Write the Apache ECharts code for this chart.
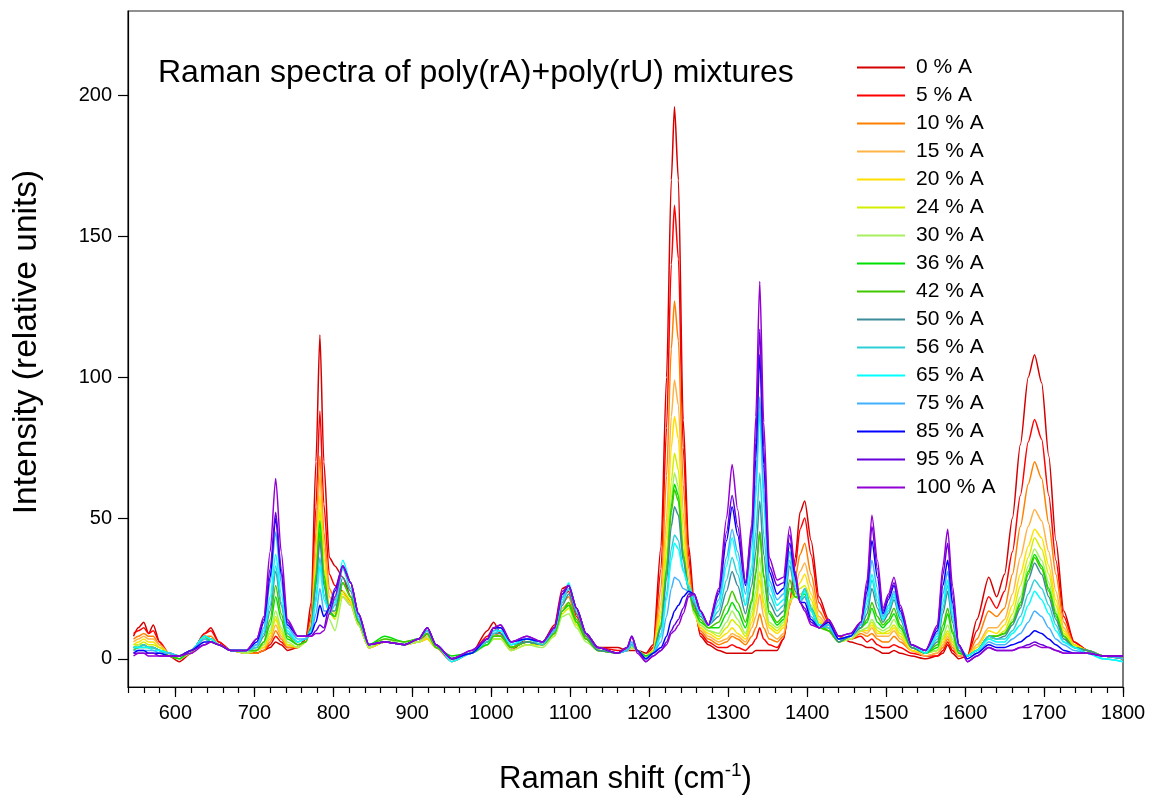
<!DOCTYPE html>
<html>
<head>
<meta charset="utf-8">
<script src="https://cdn.jsdelivr.net/npm/echarts@6/dist/echarts.min.js"></script>
<style>html,body{margin:0;padding:0;background:#fff}#chart{width:1152px;height:800px}</style>
</head>
<body>
<div id="chart"></div>
<script>
// Raman shift positions (cm-1) at which the spectra were read
const ramanShift = [547,553,560,566,572,580,592,605,620,637,
645,655,670,690,703,712,720,727,734,742,
755,765,772,778,783,788,795,802,812,822,
832,845,865,890,908,919,930,950,975,995,
1003,1012,1025,1045,1065,1080,1090,1098,1108,1120,
1135,1160,1172,1178,1185,1196,1205,1215,1222,1228,
1232,1237,1243,1250,1257,1265,1275,1288,1298,1305,
1312,1322,1330,1335,1340,1345,1352,1362,1370,1378,
1385,1391,1397,1405,1415,1427,1440,1455,1468,1476,
1482,1489,1496,1503,1510,1518,1532,1550,1565,1572,
1578,1584,1592,1603,1615,1630,1640,1650,1660,1670,
1680,1688,1697,1706,1715,1725,1738,1755,1775,1800];

const seriesNames = ['0 % A','5 % A','10 % A','15 % A','20 % A','24 % A','30 % A','36 % A','42 % A','50 % A','56 % A','65 % A','75 % A','85 % A','95 % A','100 % A'];
const seriesColors = ['#d40000','#ff0000','#ff8000','#ffb347','#ffe000','#d4ee00','#a8f060','#00e000','#40c800','#3d8c99','#2ed0d8','#00ffff','#40b0ff','#0000ff','#6600dd','#9400d3'];

const a0 = [8,11,13,9,12,6,1,-1,2,9, 11,6,3,2,2,3,4,6,5,3, 4,7,20,70,115,70,36,33,29,22, 12,4,6,5,6,9,4,0,2,10, 13,9,3,7,6,12,25,26,16,9, 4,4,3,3,3,2,5,40,100,170, 196,170,85,40,20,8,5,3,2,2, 2,2,2,3,3,3,3,3,7,20, 36,52,56,42,22,14,8,6,5,4, 4,3,2,2,3,2,1,0,1,2, 5,2,0,1,14,29,22,30,50,76, 100,108,98,72,42,17,6,3,1,0];
const a5 = [9,10,11,9,10,6,2,0,2,9, 10,6,3,2,2,3,5,8,6,4, 4,7,16,54,88,55,30,26,24,20, 12,4,6,5,6,8,4,-1,2,8, 11,9,4,6,5,10,22,24,15,8, 4,3,3,4,3,1,4,32,82,140, 161,142,75,36,18,9,6,4,4,5, 4,3,5,7,11,7,5,4,7,19, 33,46,50,37,20,13,8,7,8,6, 7,5,4,4,5,4,2,1,1,3, 6,3,1,1,10,22,18,24,38,58, 77,85,78,58,35,15,6,3,1,0];
const a10 = [7,8,9,8,8,5,2,1,3,8, 8,5,3,2,2,3,6,10,7,4, 4,6,14,45,72,45,25,21,22,19, 12,4,6,5,6,7,4,0,2,7, 9,8,4,6,5,9,20,22,14,8, 3,2,3,4,3,1,3,25,65,110, 127,113,62,32,17,10,7,5,6,8, 7,5,8,11,16,11,7,6,8,19, 29,37,41,30,17,12,7,7,9,8, 9,7,6,6,8,6,3,1,2,4, 7,4,1,1,7,17,15,18,30,47, 62,70,64,48,30,13,5,3,1,0];
const a15 = [6,7,8,7,7,5,2,1,3,8, 7,5,3,2,3,4,7,12,8,5, 4,6,12,38,65,40,22,19,22,20, 12,4,6,5,6,7,4,0,2,6, 8,8,4,6,5,9,18,20,13,7, 3,2,3,4,3,1,3,20,50,86, 99,90,52,28,16,11,8,6,7,9, 8,6,11,15,23,15,9,7,9,19, 26,31,34,26,15,11,7,7,10,9, 11,8,8,8,10,7,3,1,2,5, 8,5,1,1,5,11,11,14,23,36, 47,53,49,38,24,11,5,3,1,0];
const a20 = [5,6,7,6,6,4,2,1,3,7, 7,5,3,2,3,4,8,14,9,5, 4,6,11,34,58,36,19,16,23,20, 12,4,6,5,6,7,4,0,2,6, 7,7,3,5,5,8,17,19,12,7, 3,2,3,4,3,1,3,17,44,75, 86,78,46,26,16,11,9,7,9,11, 9,7,13,19,28,18,11,9,11,20, 24,27,30,23,14,10,6,7,10,10, 12,9,9,9,11,8,3,2,3,6, 9,6,2,1,4,10,9,12,19,30, 40,46,43,33,21,10,5,3,1,0];
const a24 = [5,5,6,5,5,4,2,1,3,7, 6,5,3,2,3,5,9,15,10,5, 4,6,11,30,53,32,17,14,24,21, 12,4,6,5,6,8,4,0,2,5, 7,7,3,5,5,8,16,18,12,7, 3,2,3,4,3,1,3,15,38,63, 73,67,41,25,16,12,10,8,11,14, 12,8,15,21,31,20,12,10,12,21, 23,25,26,21,13,10,6,7,10,11, 13,10,9,10,12,9,4,2,3,7, 10,6,2,1,3,8,8,10,16,26, 36,43,39,30,19,9,5,3,1,0];
const a30 = [4,5,5,4,4,3,1,0,2,7, 6,5,3,2,3,5,10,17,11,6, 4,6,10,28,46,28,14,10,22,19, 12,4,7,5,6,8,4,0,2,5, 7,7,3,5,4,8,15,16,11,6, 3,2,3,4,3,1,2,13,34,57, 66,61,38,24,16,12,10,9,13,17, 14,9,17,24,36,23,13,11,13,21, 22,23,24,19,12,10,6,7,10,11, 14,11,10,11,14,10,4,2,3,8, 12,7,2,1,3,7,8,9,14,22, 33,39,35,27,17,8,4,3,1,0];
const a36 = [4,4,5,4,4,3,1,0,3,8, 6,5,3,3,3,6,12,22,14,7, 5,6,11,30,49,30,17,15,27,22, 13,5,8,6,7,9,4,1,2,5, 8,8,4,6,5,9,17,19,13,7, 3,2,3,5,3,1,2,12,32,54, 62,58,37,24,17,13,11,11,16,20, 17,11,20,30,45,29,16,12,14,25, 22,22,23,18,12,10,6,8,11,13, 18,13,11,13,16,11,4,2,4,10, 16,9,2,1,3,8,8,9,13,20, 31,37,33,25,16,8,4,3,1,0];
const a42 = [3,4,4,4,4,3,2,1,3,8, 7,5,3,3,3,6,14,26,16,8, 5,6,11,28,45,28,16,15,27,22, 13,5,7,6,7,9,4,0,2,6, 8,8,4,6,5,9,17,20,14,7, 3,2,3,5,3,0,2,12,31,52, 60,56,37,25,18,14,11,13,19,24, 20,13,21,31,45,30,17,13,15,28, 22,21,22,17,11,10,6,8,11,14, 20,15,12,14,18,12,4,2,5,12, 18,10,3,1,3,8,8,9,13,19, 30,36,32,24,15,8,4,3,1,0];
const a50 = [4,4,5,4,4,3,2,1,3,8, 7,5,3,3,4,8,17,31,19,9, 6,7,11,26,42,26,17,17,29,24, 14,5,6,5,7,10,5,0,2,6, 9,9,5,6,5,10,19,23,16,8, 3,2,3,5,3,0,2,11,28,47, 54,51,35,25,19,15,12,15,24,31, 26,16,26,38,56,37,20,15,17,33, 24,21,25,18,12,11,6,8,11,16, 25,18,13,16,21,14,4,2,6,16, 24,13,3,1,3,8,7,8,12,18, 28,34,30,22,14,7,4,3,1,0];
const a56 = [4,4,5,4,4,3,2,1,3,8, 7,5,3,3,4,9,19,33,20,9, 6,7,10,22,36,23,16,19,32,25, 14,5,6,5,7,10,5,0,2,6, 9,10,5,7,5,10,20,25,17,9, 4,2,3,5,3,0,2,9,23,39, 44,42,32,25,20,16,12,17,28,36, 30,19,30,45,66,44,23,17,19,35, 25,21,25,18,12,11,7,8,12,18, 28,20,14,17,22,15,5,2,7,18, 26,15,4,1,3,8,7,7,10,15, 23,28,25,19,12,6,4,2,0,-1];
const a65 = [4,4,4,4,3,3,2,1,3,8, 7,5,3,3,5,10,22,37,23,10, 6,7,10,20,33,21,17,20,35,27, 15,5,6,5,7,11,5,-1,2,7, 10,10,5,7,6,10,21,27,18,9, 4,2,3,6,3,0,2,8,21,35, 41,39,31,26,21,16,12,19,33,43, 35,19,33,57,88,55,26,19,21,38, 26,21,24,17,12,12,7,8,12,20, 30,22,14,18,23,15,5,2,8,20, 28,16,4,1,3,7,6,6,9,12, 19,24,21,16,10,6,4,2,0,-1];
const a75 = [3,3,3,3,3,2,2,1,3,7, 6,5,3,3,5,11,27,45,27,11, 7,7,9,16,25,17,17,21,33,27, 15,5,6,5,7,11,5,0,2,7, 10,11,6,7,6,10,22,26,18,9, 4,2,3,6,3,0,2,6,15,25, 29,28,25,24,22,17,12,21,36,46, 38,23,40,62,93,60,28,21,23,38, 28,20,22,15,11,12,7,8,12,22, 35,25,15,19,24,16,5,3,9,23, 31,18,4,0,2,6,5,5,7,9, 13,17,15,11,7,5,3,2,1,0];
const a85 = [2,3,3,2,2,2,1,1,3,6, 6,5,3,3,6,13,29,50,30,12, 8,8,9,13,19,15,18,24,33,27, 16,5,6,5,7,11,5,0,2,7, 11,11,6,7,6,11,23,26,18,9, 4,2,4,8,3,0,2,4,8,14, 17,19,22,24,23,17,12,23,42,54, 44,26,44,71,108,69,31,23,25,41, 29,20,20,14,11,13,7,8,13,24, 42,29,16,21,26,17,5,3,10,26, 35,20,5,0,2,5,4,4,5,6, 8,10,9,7,5,3,2,2,1,1];
const a95 = [2,2,2,2,2,1,1,1,3,5, 6,5,3,3,7,14,32,52,32,13, 8,8,8,10,12,11,19,25,33,27, 16,5,6,5,7,11,5,0,3,7, 11,12,6,8,6,11,23,26,18,9, 4,2,4,8,3,-1,1,3,6,10, 12,14,18,23,23,17,12,24,45,58, 47,27,46,77,117,75,33,26,27,44, 30,20,18,13,11,14,8,9,13,26, 47,32,17,22,27,18,5,3,11,30, 41,23,5,-1,1,4,3,3,3,4, 5,6,5,4,3,2,2,2,1,1];
const a100 = [1,2,2,1,1,1,1,1,2,5, 6,5,3,3,7,15,38,64,38,14, 8,8,8,9,9,10,16,22,33,27, 16,5,6,5,7,11,5,0,3,7, 11,12,6,8,6,11,24,26,18,9, 4,2,4,8,2,-1,1,3,5,9, 10,12,16,22,23,17,12,25,50,69, 53,27,48,86,134,84,36,28,29,47, 31,20,17,12,11,14,8,9,13,28, 51,35,18,23,29,19,5,3,12,33, 46,26,5,-1,1,4,3,3,3,4, 4,5,4,4,3,2,2,2,1,1];

const spectra = [a0,a5,a10,a15,a20,a24,a30,a36,a42,a50,a56,a65,a75,a85,a95,a100];

const xMajorTicks = [600,700,800,900,1000,1100,1200,1300,1400,1500,1600,1700,1800];
const yMajorTicks = [0,50,100,150,200];

const FONT = '"Liberation Sans", Arial, sans-serif';
const chart = echarts.init(document.getElementById('chart'));

const series = spectra.map((vals, i) => ({
  name: seriesNames[i],
  type: 'line',
  xAxisIndex: 0,
  yAxisIndex: 0,
  data: vals.map((v, k) => [ramanShift[k], v]),
  showSymbol: false,
  smooth: 0.25,
  smoothMonotone: 'x',
  lineStyle: { width: 1.5, color: seriesColors[i] },
  itemStyle: { color: seriesColors[i] },
  emphasis: { disabled: true }
}));

chart.setOption({
  animation: false,
  backgroundColor: '#fff',
  textStyle: { fontFamily: FONT },
  title: {
    text: 'Raman spectra of poly(rA)+poly(rU) mixtures',
    left: 158, top: 57, padding: 0,
    textStyle: { fontSize: 32, fontWeight: 'normal', color: '#000', fontFamily: FONT }
  },
  legend: {
    orient: 'vertical',
    left: 857, top: 57, padding: 0,
    icon: 'rect', itemWidth: 48, itemHeight: 2, itemGap: 7,
    data: seriesNames,
    textStyle: { fontSize: 21, color: '#000', fontFamily: FONT, padding: [0,0,0,6] }
  },
  grid: {
    left: 128, right: 29, top: 11, bottom: 111,
    show: true, borderColor: '#222', borderWidth: 1.2, containLabel: false
  },
  xAxis: [{
    type: 'value', min: 540, max: 1800, position: 'bottom',
    name: 'Raman shift (cm{sup|-1})',
    nameLocation: 'middle', nameGap: 74,
    nameTextStyle: { fontSize: 31, color: '#000', fontFamily: FONT,
      rich: { sup: { fontSize: 19, color: '#000', fontFamily: FONT, padding: [0,0,18,0] } } },
    axisLine: { show: true, onZero: false, lineStyle: { color: '#000', width: 1.2 } },
    axisTick: { show: true, inside: false, length: 10, customValues: xMajorTicks, lineStyle: { color: '#000', width: 1.2 } },
    axisLabel: { show: true, customValues: xMajorTicks, margin: 16, fontSize: 20, color: '#000', fontFamily: FONT,
      formatter: v => String(v) },
    splitLine: { show: false }
  }, {
    type: 'value', min: 540, max: 1800, interval: 20, position: 'bottom',
    axisLine: { show: false, onZero: false },
    axisTick: { show: true, inside: false, length: 6, lineStyle: { color: '#000', width: 1.2 } },
    axisLabel: { show: false },
    splitLine: { show: false }
  }],
  yAxis: {
    type: 'value', min: -10, max: 230,
    name: 'Intensity (relative units)',
    nameLocation: 'middle', nameGap: 84,
    nameTextStyle: { fontSize: 33.5, color: '#000', fontFamily: FONT, padding: [0,0,0,14] },
    axisLine: { show: true, onZero: false, lineStyle: { color: '#000', width: 1.2 } },
    axisTick: { show: true, inside: false, length: 10, customValues: yMajorTicks, lineStyle: { color: '#000', width: 1.2 } },
    axisLabel: { show: true, customValues: yMajorTicks, margin: 16, fontSize: 20, color: '#000', fontFamily: FONT,
      formatter: v => String(v) },
    splitLine: { show: false }
  },
  series: series
});
</script>
</body>
</html>
